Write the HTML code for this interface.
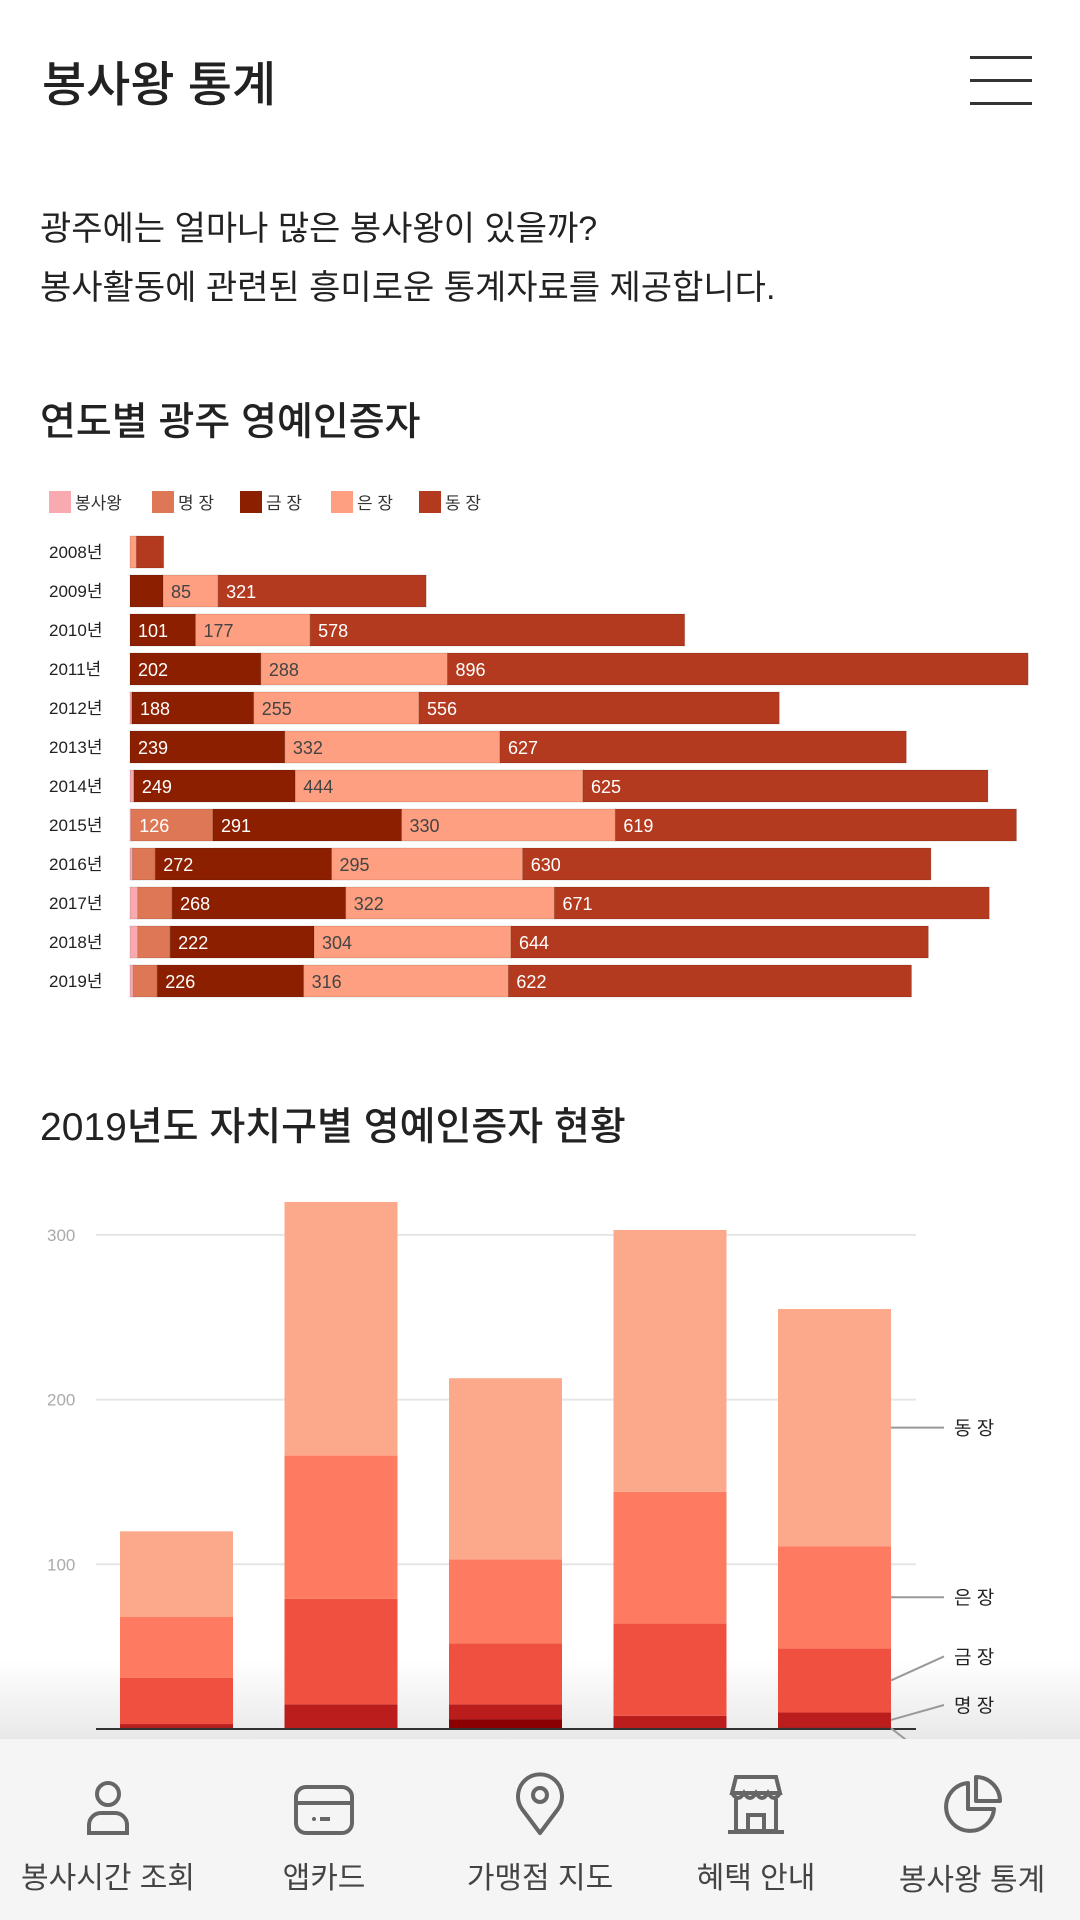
<!DOCTYPE html>
<html lang="ko"><head><meta charset="utf-8">
<style>
*{margin:0;padding:0;box-sizing:border-box}
body{width:1080px;height:1920px;overflow:hidden;background:#fff;font-family:"Liberation Sans","Noto Sans CJK KR",sans-serif;color:#222;position:relative}
.abs{position:absolute}
.nl{font-size:30px;color:#444}
</style></head><body>
<div class="abs" style="left:42px;top:45px;font-size:48px;font-weight:500;color:#222">봉사왕 통계</div>
<div class="abs" style="left:970px;top:56px;width:62px;height:50px">
 <div style="position:absolute;top:0;width:62px;height:3px;background:#333"></div>
 <div style="position:absolute;top:23px;width:62px;height:3px;background:#333"></div>
 <div style="position:absolute;top:46px;width:62px;height:3px;background:#333"></div>
</div>
<div class="abs" style="left:40px;top:200px;font-size:34px;line-height:59px;color:#222">광주에는 얼마나 많은 봉사왕이 있을까?<br>봉사활동에 관련된 흥미로운 통계자료를 제공합니다.</div>
<div class="abs" style="left:40px;top:391px;font-size:39px;font-weight:500">연도별 광주 영예인증자</div>
<div class="abs" style="left:40px;top:1096px;font-size:39px;font-weight:500">2019년도 자치구별 영예인증자 현황</div>

<div class="abs" style="left:0;top:1660px;width:1080px;height:80px;background:linear-gradient(rgba(235,235,235,0),rgba(232,232,232,1))"></div>
<svg id="topchart" class="abs" style="left:0;top:470px" width="1080" height="540"></svg>
<svg id="botchart" class="abs" style="left:0;top:1180px" width="1080" height="600"></svg>

<div class="abs" style="left:0;top:1739px;width:1080px;height:181px;background:#f5f5f5">
 <div class="abs" style="left:0;top:0;width:216px;height:181px;text-align:center">
  <svg width="50" height="60" style="margin-top:38px"><circle cx="25" cy="17" r="11" fill="none" stroke="#666" stroke-width="4"/><path d="M6 56 V48 a12 12 0 0 1 12-12 h14 a12 12 0 0 1 12 12 V56 Z" fill="none" stroke="#666" stroke-width="4"/></svg>
  <div class="nl" style="margin-top:11px">봉사시간 조회</div></div>
 <div class="abs" style="left:216px;top:0;width:216px;height:181px;text-align:center">
  <svg width="64" height="60" style="margin-top:38px"><rect x="4" y="10" width="56" height="46" rx="10" fill="none" stroke="#666" stroke-width="4"/><line x1="4" y1="26" x2="60" y2="26" stroke="#666" stroke-width="4"/><circle cx="22" cy="42" r="2" fill="#666"/><line x1="28" y1="42" x2="38" y2="42" stroke="#666" stroke-width="4"/></svg>
  <div class="nl" style="margin-top:11px">앱카드</div></div>
 <div class="abs" style="left:432px;top:0;width:216px;height:181px;text-align:center">
  <svg width="60" height="66" style="margin-top:32px"><path d="M30 62 L12 38 A22 22 0 1 1 48 38 Z" fill="none" stroke="#666" stroke-width="4" stroke-linejoin="round"/><circle cx="30" cy="24" r="7" fill="none" stroke="#666" stroke-width="4"/></svg>
  <div class="nl" style="margin-top:11px">가맹점 지도</div></div>
 <div class="abs" style="left:648px;top:0;width:216px;height:181px;text-align:center">
  <svg width="64" height="66" style="margin-top:32px"><path d="M8 22 L12 6 H52 L56 22 Z" fill="none" stroke="#666" stroke-width="4"/><path d="M8 22 q6 10 12 0 q6 10 12 0 q6 10 12 0 q6 10 12 0" fill="none" stroke="#666" stroke-width="4"/><path d="M12 28 V60 H52 V28 M24 60 V44 H40 V60" fill="none" stroke="#666" stroke-width="4"/><line x1="4" y1="61" x2="60" y2="61" stroke="#666" stroke-width="4"/></svg>
  <div class="nl" style="margin-top:11px">혜택 안내</div></div>
 <div class="abs" style="left:864px;top:0;width:216px;height:181px;text-align:center">
  <svg width="64" height="64" style="margin-top:34px"><path d="M28 10 A24 24 0 1 0 54 36 H28 Z" fill="none" stroke="#666" stroke-width="4" stroke-linejoin="round"/><path d="M36 4 A24 24 0 0 1 60 28 H36 Z" fill="none" stroke="#666" stroke-width="4" stroke-linejoin="round"/></svg>
  <div class="nl" style="margin-top:13px">봉사왕 통계</div></div>
</div>

<script>
const NS='http://www.w3.org/2000/svg';
function mk(p,t,a){const e=document.createElementNS(NS,t);for(const k in a)e.setAttribute(k,a[k]);p.appendChild(e);return e;}
// ---- yearly chart data ----
const years=['2008년','2009년','2010년','2011년','2012년','2013년','2014년','2015년','2016년','2017년','2018년','2019년'];
const seriesNames=['봉사왕','명 장','금 장','은 장','동 장'];
const kingVals=[0,0,0,0,3,0,6,2,4,12,12,5];
const masterVals=[0,0,0,0,0,0,0,126,35,53,50,37];
const goldVals=[0,51,101,202,188,239,249,291,272,268,222,226];
const silverVals=[10,85,177,288,255,332,444,330,295,322,304,316];
const bronzeVals=[42,321,578,896,556,627,625,619,630,671,644,622];
const topColors=['#f9a9b0','#dd7755','#8b1f00','#fd9f80','#b33a1f'];
const topText=['#fff','#fff','#fff','#444','#fff'];
const topSvg=document.getElementById('topchart');
const x0=130,xs=0.648,rowY0=82,rowH=39,barH=32;
const xT=v=>x0+v*xs, yT=i=>rowY0+i*rowH;
const legX=[49,152,240,331,419];
seriesNames.forEach((n,i)=>{
  const r=mk(topSvg,'rect',{x:legX[i],y:21,width:22,height:22,fill:topColors[i]});
  
  
  const t=mk(topSvg,'text',{x:legX[i]+26,y:39,'font-size':17,fill:'#333'});t.textContent=n;
  
  
});
const allSeries=[kingVals,masterVals,goldVals,silverVals,bronzeVals];
years.forEach((y,i)=>{
  const t=mk(topSvg,'text',{x:49,y:yT(i)+6,'font-size':17,fill:'#222'});t.textContent=y;
  
  
  let acc=0;
  allSeries.forEach((s,k)=>{
    const v=s[i];if(!v)return;
    const r=mk(topSvg,'rect',{x:xT(acc),y:yT(i)-barH/2,width:v*xs,height:barH,fill:topColors[k],stroke:'rgba(0,0,0,0.12)','stroke-width':1});
    
    
    if(v*xs>40){const l=mk(topSvg,'text',{x:xT(acc)+8,y:yT(i)+7,'font-size':18,fill:topText[k]});l.textContent=v;
      
      }
    acc+=v;
  });
});
// ---- district chart data ----
const districts=['동구','서구','남구','북구','광산구'];
const dKing=[1,0,6,0,1];
const dMaster=[2,15,9,8,9];
const dGold=[28,64,37,56,39];
const dSilver=[37,87,51,80,62];
const dBronze=[52,154,110,159,144];
const yTicks=[100,200,300];
const botNames=['봉사왕','명 장','금 장','은 장','동 장'];
const botColors=['#8b0000','#bb1c1c','#f05040','#fe7a60','#fca88a'];
const botSvg=document.getElementById('botchart');
const baseY=549,ys=1.647,bx0=120,bStep=164.5,bW=113;
const yB=v=>baseY-v*ys, xB=i=>bx0+i*bStep;
yTicks.forEach(v=>{
  const g=mk(botSvg,'line',{x1:96,x2:916,y1:yB(v),y2:yB(v),stroke:'#e6e6e6','stroke-width':2});
  
  
  const t=mk(botSvg,'text',{x:47,y:yB(v)+6,'font-size':17,fill:'#aaa'});t.textContent=v;
  
  
});
const dSeries=[dKing,dMaster,dGold,dSilver,dBronze];
districts.forEach((d,i)=>{
  let acc=0;
  dSeries.forEach((s,k)=>{
    const v=s[i];if(!v)return;
    const r=mk(botSvg,'rect',{x:xB(i),y:yB(acc+v),width:bW,height:v*ys,fill:botColors[k]});
    
    
    acc+=v;
  });
});
const ax=mk(botSvg,'line',{x1:96,x2:916,y1:baseY,y2:baseY,stroke:'#333','stroke-width':2});


const lastI=4;let acc2=0;const mids=[];
dSeries.forEach((s,k)=>{mids.push(acc2+s[lastI]/2);acc2+=s[lastI];});
const labelOff=[40,-10,-24,0,0];
const labelY=mids.map((m,k)=>k===1?baseY-24:yB(m)+labelOff[k]);
for(let k=1;k<5;k++){
  const ln=mk(botSvg,'line',{x1:xB(lastI)+bW,y1:yB(mids[k]),x2:944,y2:labelY[k],stroke:'#999','stroke-width':2});
  
  
  const t=mk(botSvg,'text',{x:954,y:labelY[k]+7,'font-size':19,fill:'#222'});t.textContent=botNames[k];
  
  
}
const ln0=mk(botSvg,'line',{x1:xB(lastI)+bW,y1:yB(mids[0]),x2:918,y2:baseY+20,stroke:'#999','stroke-width':2});


</script>
</body></html>
